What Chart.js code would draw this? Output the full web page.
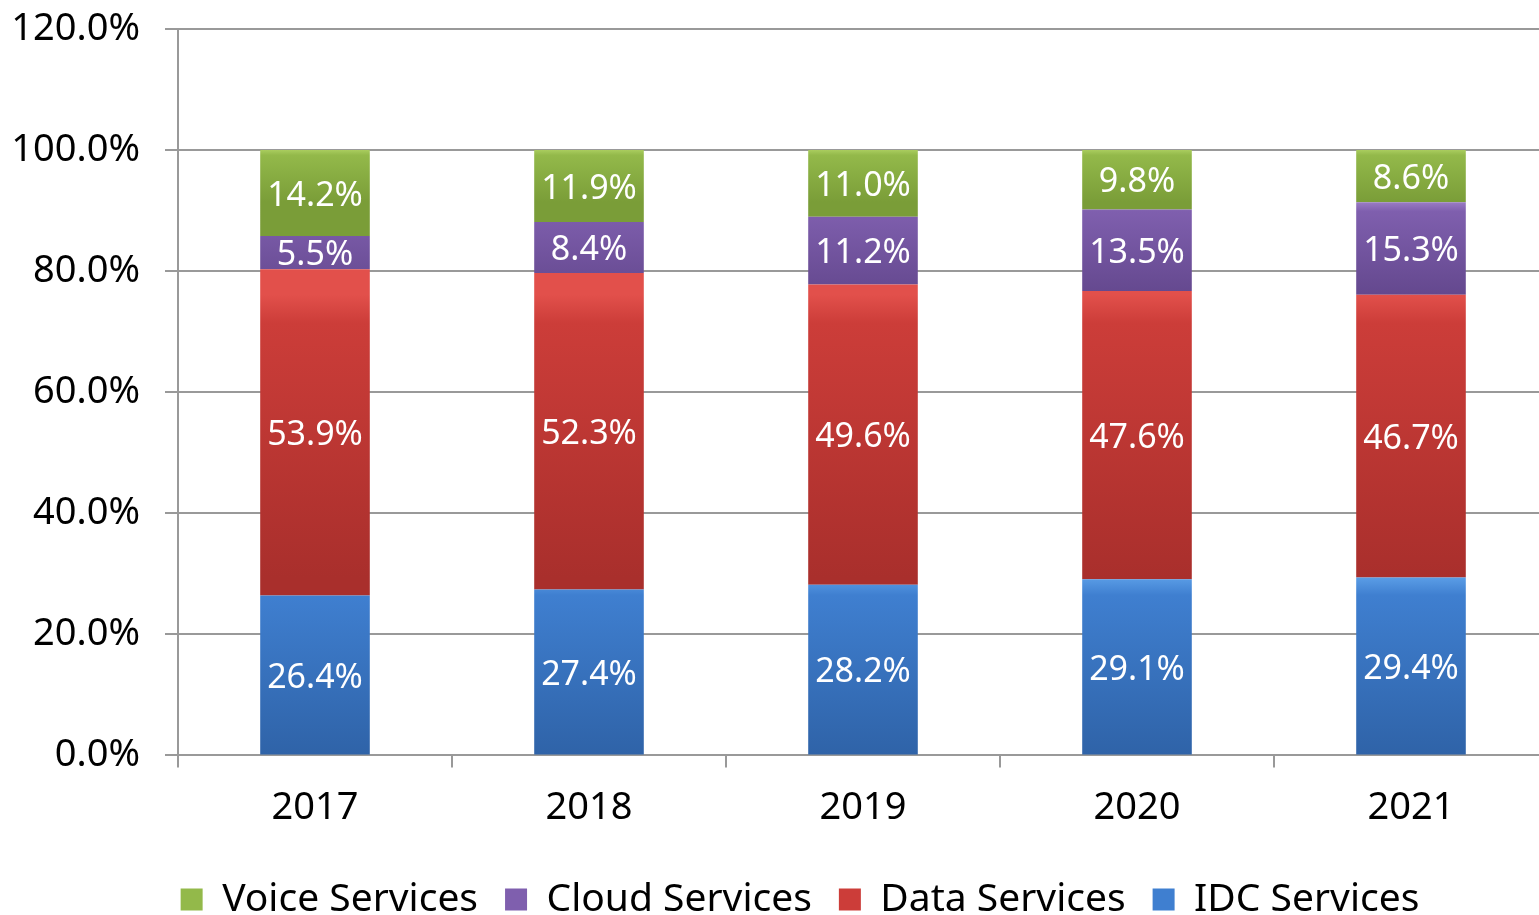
<!DOCTYPE html>
<html>
<head>
<meta charset="utf-8">
<script src="https://cdn.jsdelivr.net/npm/chart.js@4/dist/chart.umd.min.js"></script>
<style>
  html, body { margin: 0; padding: 0; background: #fff; overflow: hidden; }
  #wrap { width: 1548px; height: 915px; }
</style>
</head>
<body>
<div id="wrap"><canvas id="mix-chart"></canvas></div>
<script>
// Data (share of revenue, %)
const years = ["2017", "2018", "2019", "2020", "2021"];
const idcServices = [26.4, 27.4, 28.2, 29.1, 29.4];
const dataServices = [53.9, 52.3, 49.6, 47.6, 46.7];
const cloudServices = [5.5, 8.4, 11.2, 13.5, 15.3];
const voiceServices = [14.2, 11.9, 11.0, 9.8, 8.6];

// top / mid / bottom shades for each series
const shades = {
  "IDC Services": ["#5a9de6", "#3f7fd0", "#2f63a8"],
  "Data Services": ["#e2504b", "#cc3d39", "#a92f2c"],
  "Cloud Services": ["#9a7cc4", "#7f5fae", "#64488e"],
  "Voice Services": ["#a9cc5e", "#93b94a", "#7a9d38"]
};

// give each bar segment its own top-to-bottom gradient
const bevelPlugin = {
  id: "bevel",
  afterLayout(chart) {
    // let the y tick labels use the empty strip left of the axis
    chart.scales.y.left = 0;
  },
  beforeDatasetsDraw(chart) {
    const ctx = chart.ctx;
    chart.data.datasets.forEach((ds, i) => {
      const meta = chart.getDatasetMeta(i);
      const c = shades[ds.label];
      meta.data.forEach(bar => {
        const g = ctx.createLinearGradient(0, bar.y, 0, bar.base);
        g.addColorStop(0, c[0]);
        g.addColorStop(0.1, c[1]);
        g.addColorStop(1, c[2]);
        bar.options.backgroundColor = g;
      });
    });
  }
};

// white value labels in the middle of each segment
const valueLabels = {
  id: "valueLabels",
  afterDatasetsDraw(chart) {
    const ctx = chart.ctx;
    ctx.save();
    ctx.fillStyle = "#ffffff";
    ctx.font = "34px 'Noto Sans'";
    ctx.textAlign = "center";
    ctx.textBaseline = "middle";
    chart.data.datasets.forEach((ds, i) => {
      chart.getDatasetMeta(i).data.forEach((bar, j) => {
        ctx.fillText(ds.data[j].toFixed(1) + "%", bar.x, (bar.y + bar.base) / 2 + 3);
      });
    });
    ctx.restore();
  }
};

const chart = new Chart(document.getElementById("mix-chart"), {
  type: "bar",
  data: {
    labels: years,
    datasets: [
      { label: "IDC Services", data: idcServices, backgroundColor: "#3f7fd0" },
      { label: "Data Services", data: dataServices, backgroundColor: "#cc3d39" },
      { label: "Cloud Services", data: cloudServices, backgroundColor: "#7f5fae" },
      { label: "Voice Services", data: voiceServices, backgroundColor: "#93b94a" }
    ]
  },
  options: {
    responsive: true,
    maintainAspectRatio: false,
    animation: false,
    datasets: {
      bar: { barPercentage: 0.4, categoryPercentage: 1.0, borderWidth: 0 }
    },
    layout: { padding: { left: 52, top: 0, right: 0, bottom: -14 } },
    plugins: {
      tooltip: { enabled: false },
      legend: {
        position: "bottom",
        reverse: true,
        labels: {
          color: "#000",
          font: { family: "'Noto Sans'", size: 39 },
          boxWidth: 22,
          boxHeight: 22,
          padding: 27
        }
      }
    },
    scales: {
      x: {
        stacked: true,
        border: { color: "#999", width: 2 },
        grid: { drawOnChartArea: false, tickLength: 12, color: "#999", lineWidth: 2 },
        ticks: { color: "#000", padding: 18, font: { family: "'Noto Sans'", size: 38 } },
        afterFit: scale => { scale.height += 4; }
      },
      y: {
        stacked: true,
        min: 0,
        max: 120,
        border: { color: "#999", width: 2 },
        grid: { color: "#999", lineWidth: 2, tickLength: 13 },
        ticks: {
          stepSize: 20,
          color: "#000",
          padding: 25,
          font: { family: "'Noto Sans'", size: 38 },
          callback: v => v.toFixed(1) + "%"
        },
        afterFit: scale => {
          scale.width = 126;
          scale.paddingTop = 29;
        }
      }
    }
  },
  plugins: [bevelPlugin, valueLabels]
});
</script>
</body>
</html>
